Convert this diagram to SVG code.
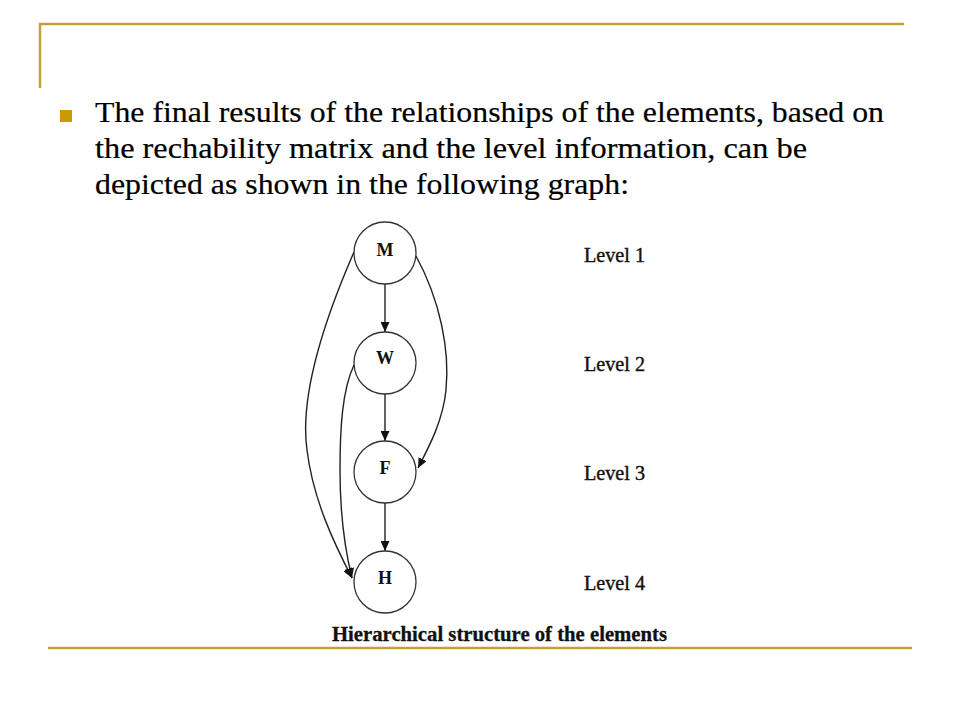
<svg xmlns="http://www.w3.org/2000/svg" width="960" height="720" viewBox="0 0 960 720">
<style>
.frame{stroke:#C4A035;stroke-width:2.5;fill:none}
text{font-family:'Liberation Serif','Times New Roman',Times,serif}
.body{font-size:29px;fill:#000;stroke:#000;stroke-width:0.2}
.lvl{font-size:20px;fill:#111;stroke:#111;stroke-width:0.4}
.cap{font-size:20px;font-weight:bold;fill:#111;stroke:#111;stroke-width:0.3}
.node circle{fill:#fff;stroke:#333;stroke-width:1.3}
.node text{font-size:18px;font-weight:bold;fill:#111;text-anchor:middle}
.edge{fill:none;stroke:#222;stroke-width:1.4}
</style>
<defs>
<marker id="arr" markerWidth="10" markerHeight="9" refX="10" refY="4.5" orient="auto" markerUnits="userSpaceOnUse">
<path d="M0,0 L10,4.5 L0,9 Z" fill="#111"/>
</marker>
</defs>
<rect width="960" height="720" fill="#fff"/>
<g id="frame">
<path class="frame" d="M40,88 V24 H904"/>
<line class="frame" x1="48" y1="648" x2="912" y2="648"/>
<rect x="60" y="110" width="12" height="12" fill="#CC9900"/>
</g>
<g id="body-text">
<text class="body" x="95" y="122" textLength="789" lengthAdjust="spacingAndGlyphs">The final results of the relationships of the elements, based on</text>
<text class="body" x="95" y="158" textLength="712" lengthAdjust="spacingAndGlyphs">the rechability matrix and the level information, can be</text>
<text class="body" x="95" y="194" textLength="534" lengthAdjust="spacingAndGlyphs">depicted as shown in the following graph:</text>
</g>
<g id="connectors">
<line class="edge" x1="385" y1="284" x2="385" y2="332" marker-end="url(#arr)"/>
<line class="edge" x1="385" y1="394" x2="385" y2="441" marker-end="url(#arr)"/>
<line class="edge" x1="385" y1="503" x2="385" y2="551" marker-end="url(#arr)"/>
<path class="edge" d="M354,252 C320,330 300,400 307,450 C313,500 335,545 352,578" marker-end="url(#arr)"/>
<path class="edge" d="M354,365 C342,390 340,430 340,470 C340,510 345,550 352,578" marker-end="url(#arr)"/>
<path class="edge" d="M416,256 C440,300 450,350 446,390 C443,420 430,445 418,468" marker-end="url(#arr)"/>
</g>
<g id="node-M" class="node"><circle cx="385" cy="253" r="31"/><text x="385" y="256">M</text></g>
<g id="node-W" class="node"><circle cx="385" cy="363" r="31"/><text x="385" y="364">W</text></g>
<g id="node-F" class="node"><circle cx="385" cy="472" r="31"/><text x="385" y="474">F</text></g>
<g id="node-H" class="node"><circle cx="385" cy="582" r="31"/><text x="385" y="584">H</text></g>
<g id="levels">
<text class="lvl" x="584" y="262" textLength="61" lengthAdjust="spacingAndGlyphs">Level 1</text>
<text class="lvl" x="584" y="371" textLength="61" lengthAdjust="spacingAndGlyphs">Level 2</text>
<text class="lvl" x="584" y="480" textLength="61" lengthAdjust="spacingAndGlyphs">Level 3</text>
<text class="lvl" x="584" y="590" textLength="61" lengthAdjust="spacingAndGlyphs">Level 4</text>
</g>
<text id="caption" class="cap" x="332" y="641" textLength="335" lengthAdjust="spacingAndGlyphs">Hierarchical structure of the elements</text>
</svg>
